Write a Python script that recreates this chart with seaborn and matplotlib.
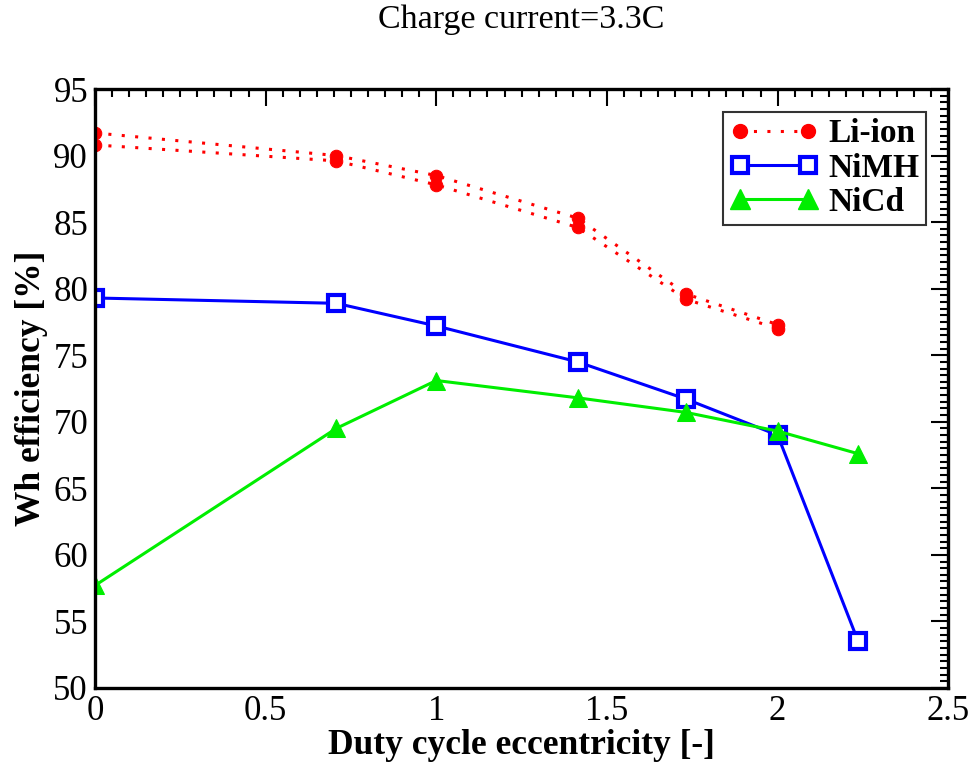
import numpy as np
import pandas as pd
import seaborn as sns
import matplotlib.pyplot as plt
from matplotlib.ticker import MultipleLocator
from matplotlib.lines import Line2D

# eccentricity values (sqrt of 0, 0.5, 1, 2, 3, 4, 5)
x_li = [0, 0.707, 1, 1.414, 1.732, 2]
x_ni = [0, 0.707, 1, 1.414, 1.732, 2, 2.236]

li_ion_a = [91.7, 90.0, 88.5, 85.3, 79.6, 77.3]
li_ion_b = [90.8, 89.6, 87.8, 84.6, 79.2, 77.0]
nimh = [79.3, 78.9, 77.2, 74.5, 71.7, 69.0, 53.5]
nicd = [57.7, 69.5, 73.1, 71.8, 70.7, 69.3, 67.6]

sns.set_style("white")
plt.rcParams['font.family'] = ['Liberation Serif', 'DejaVu Serif']
plt.rcParams['text.color'] = 'black'
plt.rcParams['axes.labelcolor'] = 'black'

fig = plt.figure(figsize=(9.73, 7.64), dpi=100)
ax = fig.add_axes([0.0976, 0.0995, 0.877, 0.784])

dots = (0, (1, 3.4))
for ys in (li_ion_a, li_ion_b):
    sns.lineplot(x=x_li, y=ys, ax=ax, color='red', linestyle=dots, linewidth=2.2,
                 marker='o', markersize=9, markeredgecolor='red', estimator=None)

sns.lineplot(x=x_ni, y=nimh, ax=ax, color='blue', linewidth=2.2, marker='s',
             markersize=11, markerfacecolor='white', markeredgecolor='blue',
             markeredgewidth=3, estimator=None)
sns.lineplot(x=x_ni, y=nicd, ax=ax, color='#00ee00', linewidth=2.2, marker='^',
             markersize=13, markeredgecolor='#00ee00', estimator=None)

ax.set_xlim(0, 2.5)
ax.set_ylim(50, 95)
ax.xaxis.set_major_locator(MultipleLocator(0.5))
ax.xaxis.set_minor_locator(MultipleLocator(0.05))
ax.yaxis.set_major_locator(MultipleLocator(5))
ax.yaxis.set_minor_locator(MultipleLocator(0.5))
ax.xaxis.set_major_formatter(plt.FuncFormatter(lambda v, p: f"{v:g}"))
ax.tick_params(which='both', direction='in', top=True, right=True, width=1.5,
               labelsize=25, colors='black')
ax.tick_params(which='major', length=12, pad=5)
ax.tick_params(which='minor', length=6)
for s in ax.spines.values():
    s.set_linewidth(2.4)
    s.set_color('black')

ax.set_xlabel('Duty cycle eccentricity [-]', fontsize=25.5, fontweight='bold', labelpad=1)
ax.set_ylabel('Wh efficiency [%]', fontsize=25.5, fontweight='bold', labelpad=4)
ax.set_title('Charge current=3.3C', fontsize=24.5, pad=44)

handles = [
    Line2D([], [], color='red', linestyle=dots, linewidth=2.2, marker='o', markersize=10),
    Line2D([], [], color='blue', linewidth=2.2, marker='s', markersize=12,
           markerfacecolor='white', markeredgecolor='blue', markeredgewidth=3),
    Line2D([], [], color='#00ee00', linewidth=2.2, marker='^', markersize=14),
]
leg = ax.legend(handles, ['Li-ion', 'NiMH', 'NiCd'], loc='upper right',
                bbox_to_anchor=(0.974, 0.962), numpoints=2, handlelength=2.65,
                prop={'weight': 'bold', 'size': 24}, frameon=True, fancybox=False,
                borderpad=0.2, labelspacing=0.1, handletextpad=0.3,
                borderaxespad=0)
leg.get_frame().set_edgecolor('black')
leg.get_frame().set_linewidth(1.5)

fig.savefig('out.png', dpi=100)
